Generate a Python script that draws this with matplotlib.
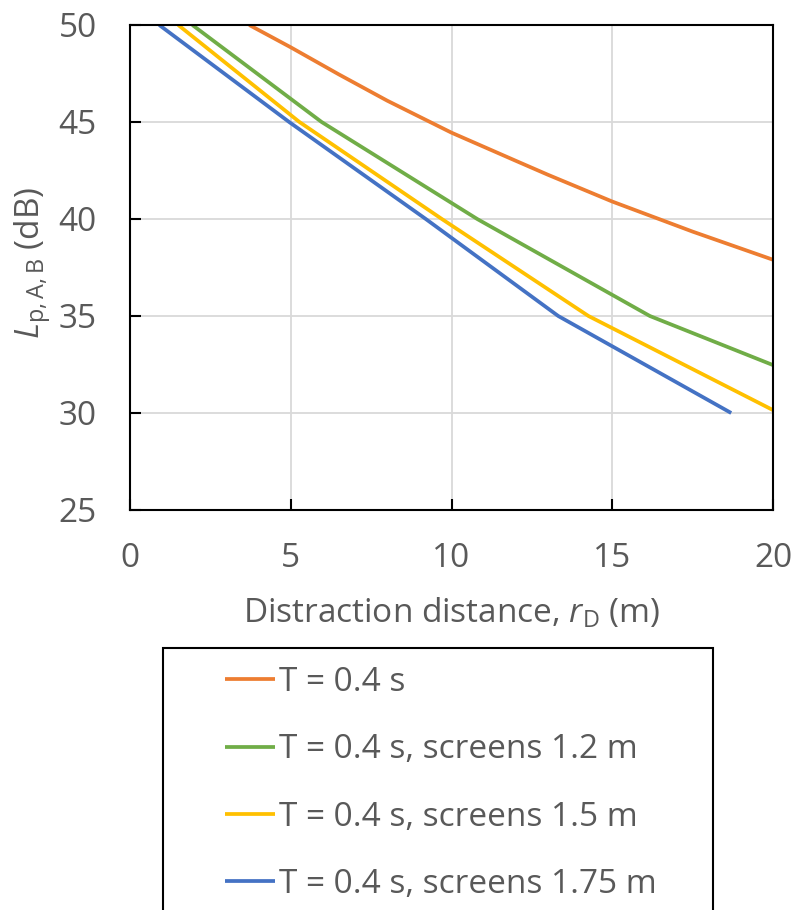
import matplotlib
matplotlib.use("Agg")
import matplotlib.pyplot as plt
from matplotlib.patches import Rectangle

# 距離 r_D (m) と音圧レベル (dB) をグラフから読み取った値
r_open = [3.71, 5.0, 6.5, 8.0, 10.0, 12.0, 13.0, 15.0, 17.5, 20.0]
L_open = [50.0, 48.85, 47.45, 46.1, 44.45, 43.0, 42.28, 40.9, 39.35, 37.9]

r_s120 = [1.94, 5.96, 10.8, 16.17, 20.0]
L_s120 = [50.0, 45.0, 40.0, 35.0, 32.47]

r_s150 = [1.5, 5.27, 9.7, 14.26, 20.0]
L_s150 = [50.0, 45.0, 40.0, 35.0, 30.15]

r_s175 = [0.91, 4.95, 9.2, 13.32, 18.7]
L_s175 = [50.0, 45.0, 40.0, 35.0, 30.0]

labels = ["T = 0.4 s", "T = 0.4 s, screens 1.2 m",
          "T = 0.4 s, screens 1.5 m", "T = 0.4 s, screens 1.75 m"]
colors = ["#ED7D31", "#70AD47", "#FFC000", "#4472C4"]

x_ticks = [0, 5, 10, 15, 20]
y_ticks = [25, 30, 35, 40, 45, 50]

txt = "#595959"
plt.rcParams["font.family"] = ["Open Sans", "DejaVu Sans"]
plt.rcParams["mathtext.fontset"] = "custom"
plt.rcParams["mathtext.rm"] = "Open Sans"
plt.rcParams["mathtext.it"] = "Open Sans:italic"

fig = plt.figure(figsize=(7.94, 9.10), dpi=100)
W, H = 794, 910
ax = fig.add_axes([130 / W, 1 - 510 / H, (773 - 130) / W, (510 - 25) / H])

series = [(r_open, L_open), (r_s120, L_s120), (r_s150, L_s150), (r_s175, L_s175)]
for (r, L), lab, c in zip(series, labels, colors):
    ax.plot(r, L, color=c, lw=2.7, label=lab, solid_capstyle="butt")

ax.set_xlim(0, 20)
ax.set_ylim(25, 50)
ax.set_xticks(x_ticks)
ax.set_yticks(y_ticks)
ax.grid(True, color="#d9d9d9", lw=1.3)
ax.set_axisbelow(True)
for s in ax.spines.values():
    s.set_linewidth(1.5)
    s.set_color("black")
ax.tick_params(direction="in", length=8, width=1.5, color="black",
               labelsize=24, labelcolor=txt)
ax.tick_params(axis="x", pad=23)
ax.tick_params(axis="y", pad=24)

ax.set_xlabel(r"Distraction distance, $r_{\mathrm{D}}$ (m)", fontsize=24, color=txt)
ax.xaxis.set_label_coords(0.5, -0.178)
ax.set_ylabel(r"$L_{\mathrm{p,A,B}}$ (dB)", fontsize=24, color=txt)
ax.yaxis.set_label_coords(-0.12, 0.51)

# 凡例の枠（下側は図の外にはみ出す）
fig.patches.append(Rectangle((163 / W, -0.05), (713 - 163) / W, (1 - 648 / H) + 0.05,
                             transform=fig.transFigure, fill=False,
                             edgecolor="black", lw=1.5))
leg = fig.legend(loc="upper left", bbox_to_anchor=(225 / W, 1 - 666 / H),
                 frameon=False, fontsize=24, handlelength=1.5, handletextpad=0.12,
                 labelspacing=1.03, borderpad=0, borderaxespad=0)
for t in leg.get_texts():
    t.set_color(txt)

fig.savefig("out.png", dpi=100)
